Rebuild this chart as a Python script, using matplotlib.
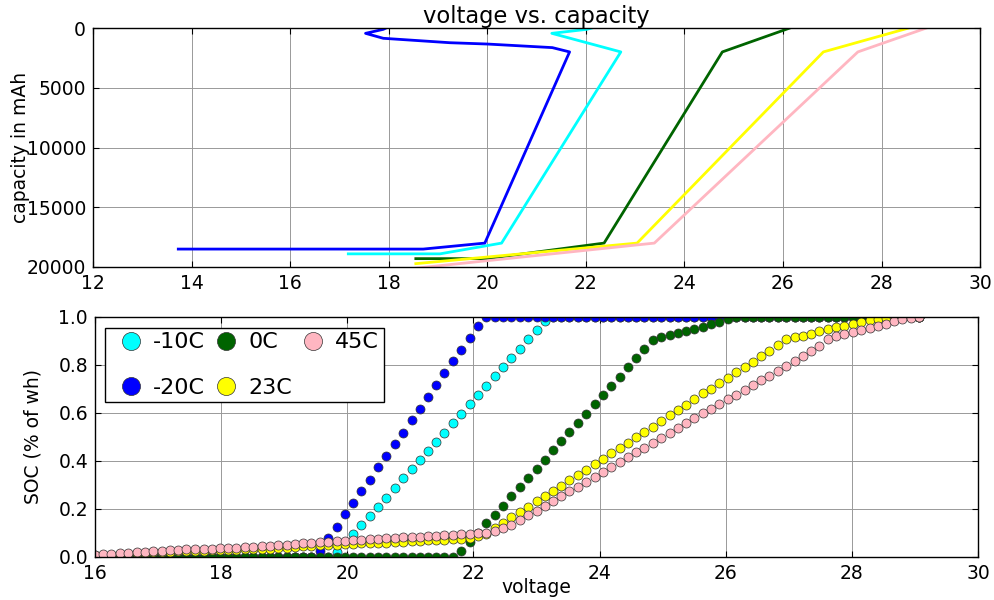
import matplotlib
matplotlib.use("Agg")
import matplotlib.pyplot as plt

plt.rcParams.update({
    "font.family": ["DejaVu Sans"],
    "font.size": 13.5,
    "xtick.direction": "in",
    "ytick.direction": "in",
    "xtick.top": True,
    "ytick.right": True,
    "xtick.major.size": 4,
    "ytick.major.size": 4,
    "xtick.major.pad": 5,
    "ytick.major.pad": 5,
    "axes.linewidth": 1.0,
    "legend.fancybox": False,
    "legend.edgecolor": "black",
    "legend.framealpha": 1.0,
})

series_names = ["-10C", "-20C", "0C", "23C", "45C"]
series_colors = ["#00ffff", "#0000ff", "#006400", "#ffff00", "#ffb6c1"]

# ---- capacity curves: (voltage, capacity in mAh) vertices ----
cap_v_m10 = [17.18, 19.04, 20.29, 22.71, 21.31, 22.02, 22.30]
cap_c_m10 = [18900, 18900, 18000, 2000, 445, 110, -200]
cap_v_m20 = [13.73, 18.70, 19.95, 21.67, 21.32, 20.00, 19.24, 17.89, 17.53, 17.89, 18.10]
cap_c_m20 = [18500, 18500, 18000, 2000, 1640, 1340, 1230, 860, 445, 110, -300]
cap_v_0 = [18.55, 19.99, 22.37, 24.77, 26.14]
cap_c_0 = [19300, 19300, 18000, 2000, 0]
cap_v_23 = [18.55, 23.04, 26.82, 28.55]
cap_c_23 = [19720, 18000, 2000, 0]
cap_v_45 = [18.55, 23.39, 27.52, 28.91]
cap_c_45 = [20100, 18000, 2000, 0]

# ---- state of charge vs. voltage (shared voltage samples) ----
voltage = [
    16.00, 16.13, 16.26, 16.40, 16.53, 16.66, 16.79, 16.92, 17.06, 17.19,
    17.32, 17.45, 17.58, 17.72, 17.85, 17.98, 18.11, 18.24, 18.38, 18.51,
    18.64, 18.77, 18.90, 19.04, 19.17, 19.30, 19.43, 19.56, 19.70, 19.83,
    19.96, 20.09, 20.22, 20.36, 20.49, 20.62, 20.75, 20.88, 21.02, 21.15,
    21.28, 21.41, 21.54, 21.68, 21.81, 21.94, 22.07, 22.20, 22.34, 22.47,
    22.60, 22.73, 22.86, 23.00, 23.13, 23.26, 23.39, 23.52, 23.66, 23.79,
    23.92, 24.05, 24.18, 24.32, 24.45, 24.58, 24.71, 24.84, 24.98, 25.11,
    25.24, 25.37, 25.50, 25.64, 25.77, 25.90, 26.03, 26.16, 26.30, 26.43,
    26.56, 26.69, 26.82, 26.96, 27.09, 27.22, 27.35, 27.48, 27.62, 27.75,
    27.88, 28.01, 28.14, 28.28, 28.41, 28.54, 28.67, 28.80, 28.94, 29.07,
]

soc_m10 = [0.0] * 29 + [
    0.020, 0.058, 0.093, 0.131, 0.170, 0.208, 0.246, 0.288, 0.327, 0.364,
    0.403, 0.442, 0.479, 0.517, 0.557, 0.596, 0.635, 0.674, 0.713, 0.752,
    0.789, 0.829, 0.867, 0.907, 0.945, 0.983,
] + [1.0] * 45

soc_m20 = [0.0] * 27 + [
    0.025, 0.077, 0.125, 0.177, 0.225, 0.272, 0.320, 0.372, 0.421, 0.468,
    0.517, 0.568, 0.617, 0.665, 0.714, 0.765, 0.814, 0.862, 0.911, 0.963,
] + [1.0] * 53

soc_0 = [0.0] * 44 + [
    0.025, 0.060, 0.100, 0.139, 0.175, 0.213, 0.253, 0.290, 0.329, 0.365,
    0.404, 0.443, 0.482, 0.520, 0.557, 0.596, 0.635, 0.673, 0.711, 0.750,
    0.789, 0.827, 0.864, 0.903, 0.914, 0.923, 0.932, 0.942, 0.949, 0.958,
    0.971, 0.979, 0.989,
] + [1.0] * 23

soc_23 = [
    0.005, 0.007, 0.009, 0.011, 0.013, 0.015, 0.016, 0.018, 0.019, 0.021,
    0.022, 0.023, 0.024, 0.025, 0.026, 0.027, 0.028, 0.029, 0.030, 0.031,
    0.033, 0.034, 0.036, 0.038, 0.040, 0.043, 0.046, 0.047, 0.049, 0.050,
    0.052, 0.053, 0.055, 0.056, 0.058, 0.059, 0.061, 0.063, 0.065, 0.067,
    0.069, 0.070, 0.071, 0.072, 0.073, 0.078, 0.088, 0.095, 0.118, 0.141,
    0.164, 0.185, 0.208, 0.232, 0.254, 0.274, 0.296, 0.318, 0.340, 0.361,
    0.385, 0.408, 0.431, 0.453, 0.475, 0.499, 0.520, 0.542, 0.565, 0.589,
    0.611, 0.632, 0.656, 0.681, 0.700, 0.722, 0.745, 0.768, 0.789, 0.813,
    0.836, 0.858, 0.881, 0.906, 0.914, 0.921, 0.929, 0.939, 0.947, 0.956,
    0.963, 0.970, 0.978, 0.985, 0.990, 0.995, 1.0, 1.0, 1.0, 1.0,
]

soc_45 = [
    0.008, 0.010, 0.012, 0.015, 0.017, 0.019, 0.021, 0.023, 0.025, 0.027,
    0.028, 0.030, 0.031, 0.033, 0.034, 0.035, 0.036, 0.037, 0.039, 0.041,
    0.043, 0.045, 0.047, 0.049, 0.052, 0.055, 0.058, 0.060, 0.062, 0.064,
    0.066, 0.068, 0.070, 0.072, 0.074, 0.076, 0.078, 0.080, 0.082, 0.084,
    0.086, 0.088, 0.090, 0.092, 0.094, 0.096, 0.098, 0.100, 0.108, 0.118,
    0.133, 0.152, 0.172, 0.192, 0.212, 0.232, 0.253, 0.273, 0.292, 0.311,
    0.331, 0.352, 0.374, 0.396, 0.417, 0.435, 0.453, 0.472, 0.494, 0.514,
    0.535, 0.556, 0.576, 0.597, 0.615, 0.635, 0.656, 0.674, 0.694, 0.714,
    0.735, 0.754, 0.775, 0.794, 0.815, 0.836, 0.855, 0.878, 0.907, 0.921,
    0.928, 0.935, 0.944, 0.954, 0.963, 0.971, 0.980, 0.989, 0.995, 1.0,
]

cap_curves = [
    (cap_v_m10, cap_c_m10),
    (cap_v_m20, cap_c_m20),
    (cap_v_0, cap_c_0),
    (cap_v_23, cap_c_23),
    (cap_v_45, cap_c_45),
]
soc_curves = [soc_m10, soc_m20, soc_0, soc_23, soc_45]

fig = plt.figure(figsize=(9.95, 6.0), dpi=100)
ax1 = fig.add_axes([0.0935, 0.555, 0.8915, 0.3983])
ax2 = fig.add_axes([0.0955, 0.0722, 0.8875, 0.4])

grid_kw = dict(color="0.6", linestyle="-", linewidth=0.7)

# top panel: capacity vs. voltage
for (vx, cy), color in zip(cap_curves, series_colors):
    ax1.plot(vx, cy, color=color, linewidth=2)
ax1.set_xlim(12, 30)
ax1.set_ylim(20000, 0)
ax1.set_xticks(range(12, 31, 2))
ax1.set_yticks([0, 5000, 10000, 15000, 20000])
ax1.set_ylabel("capacity in mAh")
ax1.yaxis.set_label_coords(-0.0716, 0.5)
ax1.set_title("voltage vs. capacity", fontsize=16.3, pad=1)
ax1.grid(True, **grid_kw)
ax1.set_axisbelow(True)

# bottom panel: state of charge vs. voltage
for name, soc, color in zip(series_names, soc_curves, series_colors):
    ax2.plot(voltage, soc, "o", color=color, markersize=6.5,
             markeredgecolor="#333333", markeredgewidth=0.5, label=name)
ax2.set_xlim(16, 30)
ax2.set_ylim(0, 1.0)
ax2.set_xticks(range(16, 31, 2))
ax2.set_yticks([0.0, 0.2, 0.4, 0.6, 0.8, 1.0])
ax2.set_yticklabels(["0.0", "0.2", "0.4", "0.6", "0.8", "1.0"])
ax2.set_xlabel("voltage", labelpad=-3)
ax2.set_ylabel("SOC (% of wh)")
ax2.yaxis.set_label_coords(-0.0595, 0.5)
ax2.grid(True, **grid_kw)
ax2.set_axisbelow(True)

leg = ax2.legend(loc="upper left", bbox_to_anchor=(0.0113, 0.953),
                 borderaxespad=0, ncol=3, numpoints=1, markerscale=2,
                 fontsize=16, labelspacing=1.15, handlelength=1.9,
                 handletextpad=0.05, columnspacing=0.0, borderpad=0.2)
leg.get_frame().set_linewidth(1.0)

fig.savefig("out.png", dpi=100, facecolor="white")
